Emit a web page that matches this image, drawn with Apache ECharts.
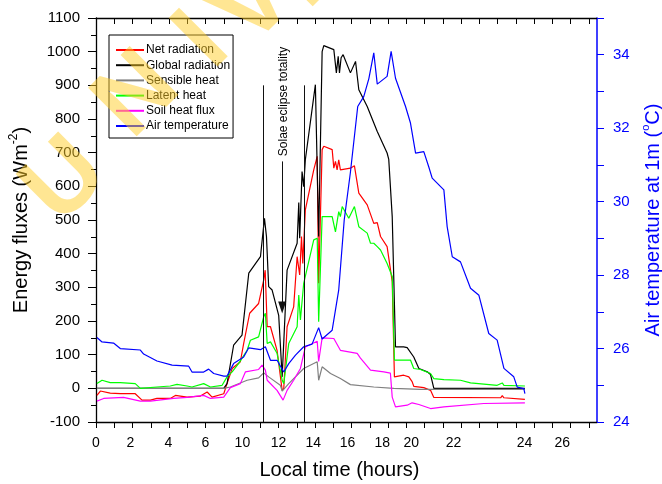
<!DOCTYPE html>
<html>
<head>
<meta charset="utf-8">
<script src="https://cdn.jsdelivr.net/npm/echarts@6/dist/echarts.min.js"></script>
<style>
html,body{margin:0;padding:0;background:#fff}
#chart{width:662px;height:484px}
</style>
</head>
<body>
<div id="chart"></div>
<script>
// series data: [time on the axis scale, value]
var netRadiation = [[0.05,-21],[0.24,-8],[0.78,-14],[1.33,-16],[2.15,-16],[2.52,-35],[2.98,-35],[3.34,-30],[4.07,-30],[4.35,-21],[4.99,-26],[5.72,-23],[6.09,-11],[6.36,-26],[7.00,-16],[7.18,14],[7.46,59],[7.91,79],[8.09,133],[8.42,223],[8.91,252],[9.19,322],[9.27,351],[9.38,183],[9.56,183],[9.92,113],[10.20,-6],[10.29,0],[10.47,183],[10.83,242],[11.02,391],[11.16,337],[11.26,451],[11.33,371],[11.47,530],[11.93,649],[12.12,689],[12.20,312],[12.39,709],[12.48,719],[12.94,709],[13.03,654],[13.12,674],[13.21,649],[13.30,679],[13.39,649],[13.94,654],[14.16,661],[14.40,580],[14.86,545],[15.22,490],[15.41,492],[15.59,451],[15.95,421],[16.23,317],[16.35,34],[16.86,39],[17.14,34],[17.32,20],[17.41,6],[17.96,2],[18.33,-6],[18.51,-27],[22.17,-28],[22.26,-22],[22.35,-28],[23.50,-33]];
var globalRadiation = [[0.05,0],[7.00,0],[7.18,14],[7.54,128],[8.00,158],[8.37,342],[9.01,391],[9.23,505],[9.34,451],[9.46,302],[9.65,292],[10.01,217],[10.20,34],[10.29,29],[10.47,351],[11.02,431],[11.11,552],[11.16,446],[11.29,644],[11.38,599],[11.47,679],[12.02,902],[12.12,907],[12.20,451],[12.39,1000],[12.48,1018],[13.03,1006],[13.17,937],[13.27,986],[13.34,937],[13.43,982],[13.54,991],[13.94,937],[14.22,971],[14.40,887],[14.86,837],[15.41,763],[15.95,699],[16.04,680],[16.23,510],[16.41,123],[16.86,123],[17.05,121],[17.41,93],[17.69,59],[18.15,49],[18.33,41],[18.51,0],[23.50,0]];
var sensibleHeat = [[0.05,0],[7.00,0],[7.36,4],[8.28,24],[8.91,31],[9.19,46],[9.46,34],[10.10,9],[10.20,-8],[10.29,-6],[10.56,14],[11.11,44],[11.38,59],[12.12,79],[12.20,24],[12.39,64],[12.85,44],[13.39,29],[13.94,11],[15.22,4],[16.32,0],[17.78,-3],[23.50,-3]];
var latentHeat = [[0.05,14],[0.33,24],[0.78,17],[1.33,17],[2.15,14],[2.43,0],[3.34,4],[4.07,7],[4.44,12],[4.99,7],[5.26,4],[5.90,14],[6.27,4],[6.91,9],[7.18,34],[7.46,49],[7.82,74],[8.28,113],[8.46,143],[8.91,153],[9.19,213],[9.28,223],[9.38,133],[9.56,138],[9.92,104],[10.20,24],[10.29,14],[10.56,133],[11.02,183],[11.11,277],[11.20,203],[11.38,312],[11.93,441],[12.12,446],[12.20,198],[12.39,510],[12.94,510],[13.12,465],[13.30,525],[13.39,510],[13.49,540],[13.85,505],[13.94,500],[14.16,540],[14.40,480],[14.86,461],[15.04,431],[15.22,431],[15.41,421],[15.59,411],[15.95,371],[16.23,332],[16.35,84],[16.86,84],[17.23,84],[17.41,59],[17.78,56],[18.33,44],[18.51,29],[19.06,26],[19.97,24],[20.52,16],[21.98,9],[22.26,16],[22.35,9],[23.50,7]];
var soilHeatFlux = [[0.05,-38],[0.42,-30],[1.51,-27],[2.43,-38],[2.98,-38],[4.25,-30],[4.99,-27],[5.90,-21],[6.27,-30],[7.00,-26],[7.36,2],[7.91,14],[8.19,49],[8.91,56],[9.10,69],[9.28,54],[9.38,24],[9.92,-6],[10.25,-35],[10.47,-6],[10.83,24],[11.20,59],[11.47,123],[12.12,140],[12.20,80],[12.39,150],[13.03,148],[13.39,113],[14.31,104],[14.49,90],[15.04,54],[15.77,49],[16.13,45],[16.23,-26],[16.41,-55],[17.05,-50],[17.32,-43],[17.69,-48],[18.33,-60],[19.06,-55],[21.25,-45],[23.50,-43]];
var airTemperature = [[0.05,26.30],[0.33,26.18],[0.96,26.15],[1.33,26.00],[2.43,25.96],[2.61,25.85],[3.34,25.66],[4.17,25.55],[5.08,25.52],[5.26,25.36],[5.90,25.36],[6.17,25.44],[6.45,25.32],[7.00,25.25],[7.18,25.25],[7.54,25.59],[8.09,25.77],[8.37,26.02],[9.01,25.97],[9.28,26.05],[9.56,25.68],[9.92,25.68],[10.29,25.36],[10.56,25.59],[10.93,25.82],[11.38,26.05],[11.84,26.12],[12.20,26.57],[12.39,26.26],[12.94,26.50],[13.30,27.60],[13.60,29.50],[13.94,30.80],[14.34,32.59],[14.67,32.86],[14.95,33.35],[15.22,34.05],[15.41,33.20],[15.95,33.41],[16.17,34.09],[16.41,33.36],[16.96,32.59],[17.23,32.14],[17.51,31.32],[17.96,31.36],[18.23,30.95],[18.42,30.64],[19.06,30.32],[19.24,29.32],[19.52,28.50],[19.97,28.36],[20.52,27.64],[20.98,27.45],[21.52,26.41],[21.98,26.23],[22.35,25.46],[22.89,25.23],[23.08,24.95],[23.44,24.91],[23.50,24.77]];

// x tick labels as printed on the original (placed by hand, not evenly)
var xLabelText = ['0','2','4','6','10','12','14','16','18','20','22','24','26'];
var xLabelPos = [0, 1.88, 3.96, 5.99, 8.02, 10.0, 11.91, 13.78, 15.68, 17.27, 19.59, 23.48, 25.55];

// eclipse annotation (data units)
var eclipseLinesX = [9.19, 11.40];
var eclipseArrowX = 10.2;

var xTicks = [];
for (var i = 0; i <= 27; i++) xTicks.push(i);

var myChart = echarts.init(document.getElementById('chart'));
var font = 'Arial, "Liberation Sans", sans-serif';

function lineSeries(name, data, color, yIndex) {
    return {
        name: name,
        type: 'line',
        data: data,
        yAxisIndex: yIndex || 0,
        symbol: 'none',
        animation: false,
        lineStyle: {color: color, width: 1.2},
        itemStyle: {color: color}
    };
}

var series = [
    lineSeries('Net radiation', netRadiation, '#ff0000'),
    lineSeries('Global radiation', globalRadiation, '#000000'),
    lineSeries('Sensible heat', sensibleHeat, '#808080'),
    lineSeries('Latent heat', latentHeat, '#00ff00'),
    lineSeries('Soil heat flux', soilHeatFlux, '#ff00ff'),
    lineSeries('Air temperature', airTemperature, '#0000ff', 1)
];
series[1].markLine = {
    silent: true,
    symbol: ['none', 'none'],
    label: {show: false},
    lineStyle: {color: '#111', width: 1, type: 'solid'},
    data: [
        [{coord: [eclipseLinesX[0], -100]}, {coord: [eclipseLinesX[0], 900]}],
        [{coord: [eclipseLinesX[1], -100]}, {coord: [eclipseLinesX[1], 900]}],
        [{coord: [eclipseArrowX, 674], symbol: 'none'}, {coord: [eclipseArrowX, 240], symbol: 'triangle', symbolSize: [8, 12]}]
    ]
};

var option = {
    animation: false,
    textStyle: {fontFamily: font},
    grid: {left: 96, right: 65, top: 18, bottom: 62, containLabel: false, outerBoundsMode: 'none'},
    legend: {
        orient: 'vertical',
        left: 109,
        top: 35,
        borderColor: '#000',
        borderWidth: 1,
        padding: [9, 3, 6, 6],
        itemWidth: 28,
        itemHeight: 12,
        itemGap: 3.2,
        itemStyle: {opacity: 0},
        textStyle: {fontSize: 12, color: '#000', fontFamily: font, padding: [0, 0, 0, -3]},
        data: ['Net radiation', 'Global radiation', 'Sensible heat', 'Latent heat', 'Soil heat flux', 'Air temperature']
    },
    xAxis: [{
        type: 'value',
        min: 0,
        max: 27.45,
        position: 'bottom',
        name: 'Local time (hours)',
        nameLocation: 'middle',
        nameGap: 38,
        nameTextStyle: {fontSize: 20, color: '#000', padding: [0, 14, 0, 0]},
        axisLine: {onZero: false, lineStyle: {color: '#000', width: 1.3}},
        axisTick: {customValues: xTicks, length: 6, lineStyle: {color: '#000'}},
        axisLabel: {
            customValues: xLabelPos,
            fontSize: 14,
            color: '#000',
            margin: 14,
            formatter: function (v) {
                for (var k = 0; k < xLabelPos.length; k++) {
                    if (Math.abs(v - xLabelPos[k]) < 1e-6) return xLabelText[k];
                }
                return '';
            }
        },
        splitLine: {show: false}
    }, {
        type: 'value',
        min: 0,
        max: 27.45,
        position: 'top',
        axisLine: {onZero: false, lineStyle: {color: '#000', width: 1.3}},
        axisTick: {customValues: xTicks, inside: true, length: 6, lineStyle: {color: '#000'}},
        axisLabel: {show: false},
        splitLine: {show: false}
    }],
    yAxis: [{
        type: 'value',
        min: -100,
        max: 1100,
        interval: 100,
        position: 'left',
        name: '{a|Energy fluxes (Wm}{s|-2}{a|)}',
        nameLocation: 'middle',
        nameRotate: 90,
        nameGap: 62,
        nameTextStyle: {
            rich: {
                a: {fontSize: 20, color: '#000', lineHeight: 26, fontFamily: font},
                s: {fontSize: 12, color: '#000', verticalAlign: 'top', lineHeight: 26, fontFamily: font}
            }
        },
        axisLine: {show: true, onZero: false, lineStyle: {color: '#000', width: 1.3}},
        axisTick: {show: true, length: 8, lineStyle: {color: '#000'}},
        minorTick: {show: true, splitNumber: 2, length: 5, lineStyle: {color: '#000'}},
        axisLabel: {fontSize: 15, color: '#000', margin: 16, formatter: function (v) { return String(v); }},
        splitLine: {show: false}
    }, {
        type: 'value',
        min: 24,
        max: 35,
        interval: 1,
        position: 'right',
        name: '{a|Air temperature at 1m (}{s|o}{a|C)}',
        nameLocation: 'middle',
        nameRotate: 90,
        nameGap: 43,
        nameTextStyle: {
            rich: {
                a: {fontSize: 20, color: '#0000ff', lineHeight: 26, fontFamily: font},
                s: {fontSize: 11, color: '#0000ff', verticalAlign: 'top', lineHeight: 26, fontFamily: font}
            }
        },
        axisLine: {show: true, onZero: false, lineStyle: {color: '#0000ff', width: 1.5}},
        axisTick: {show: true, length: 7, lineStyle: {color: '#0000ff'}},
        axisLabel: {
            fontSize: 15,
            color: '#0000ff',
            margin: 16,
            formatter: function (v) { return v % 2 === 0 && v < 35 ? String(v) : ''; }
        },
        splitLine: {show: false}
    }],
    series: series
};
myChart.setOption(option);

// annotation text next to the arrow and the faint watermark of the source image
var textPos = myChart.convertToPixel({xAxisIndex: 0, yAxisIndex: 0}, [10.28, 852]);
var wmLetters = ['U', 'N', 'I', 'V', 'E'];
var wmCentres = [[66, 182], [138, 96], [203, 42], [254, 6], [312, -32]];
var graphics = [{
    type: 'text',
    x: textPos[0],
    y: textPos[1],
    rotation: Math.PI / 2,
    silent: true,
    style: {
        text: 'Solae eclipse totality',
        font: '12px ' + font,
        fill: '#000',
        align: 'center',
        verticalAlign: 'middle'
    }
}];
wmLetters.forEach(function (ch, k) {
    graphics.push({
        type: 'text',
        x: wmCentres[k][0],
        y: wmCentres[k][1],
        rotation: Math.PI / 4,
        silent: true,
        z: 100,
        style: {
            text: ch,
            font: 'bold 100px ' + font,
            fill: 'rgba(255,205,40,0.5)',
            align: 'center',
            verticalAlign: 'middle'
        }
    });
});
myChart.setOption({graphic: graphics});
</script>
</body>
</html>
